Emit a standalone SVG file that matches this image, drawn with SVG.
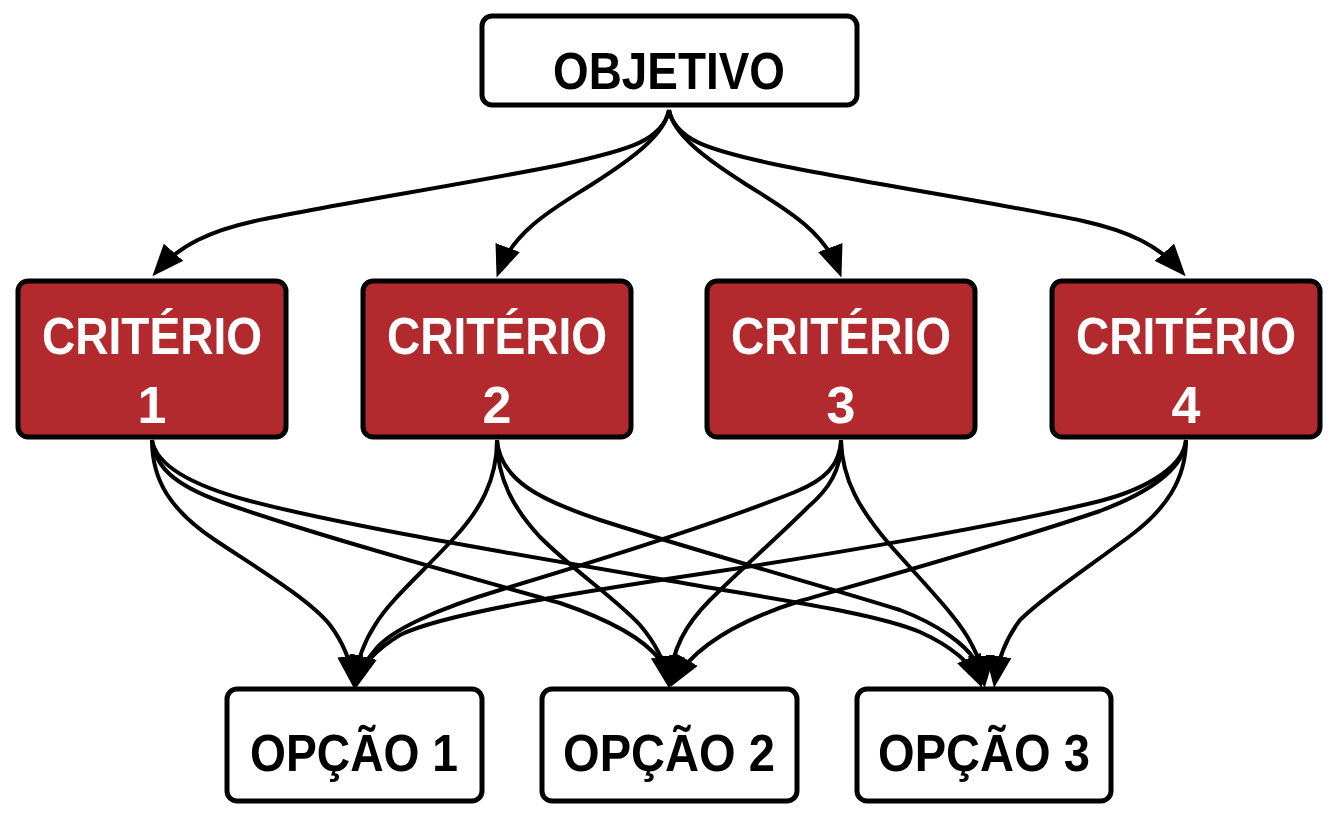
<svg xmlns="http://www.w3.org/2000/svg" width="1343" height="818" viewBox="0 0 1343 818">
<style>
.box{fill:#ffffff;stroke:#000;stroke-width:5}
.crit{fill:#b32a2e;stroke:#000;stroke-width:5}
.t{font-family:"Liberation Sans",Arial,sans-serif;font-weight:bold;font-size:52px;text-anchor:middle;fill:#000}
.w{fill:#ffffff}
.e{fill:none;stroke:#000;stroke-width:4;marker-end:url(#ah)}
</style>
<defs>
<marker id="ah" markerUnits="userSpaceOnUse" markerWidth="32" markerHeight="26" viewBox="0 0 32 26" refX="25" refY="13" orient="auto">
<path d="M0,0 L32,13 L0,26 z" fill="#000"/>
</marker>
</defs>
<rect width="1343" height="818" fill="#ffffff"/>
<g id="connectors">
<path class="e" d="M669,110 C663,140 630,150 560,165 C460,185 330,205 255,221 C210,231 180,245 157,271"/>
<path class="e" d="M669,110 C665,135 630,160 594,183 C560,205 515,228 499,271"/>
<path class="e" d="M669,110 C673,135 708,160 744,183 C778,205 823,228 839,271"/>
<path class="e" d="M669,110 C675,140 708,150 778,165 C878,185 1008,205 1083,221 C1128,231 1158,245 1181,271"/>
<path class="e" d="M152,440 C152,480 170,510 215,540 C260,570 310,600 330,625 C345,645 351,663 353,681"/>
<path class="e" d="M152,440 C155,470 180,488 230,505 C330,540 480,580 560,603 C610,620 645,640 660,660 C665,668 667,675 668,681"/>
<path class="e" d="M152,440 C156,465 190,485 250,501 C350,527 520,555 700,586 C800,603 880,615 920,632 C955,648 972,665 979,681"/>
<path class="e" d="M497,440 C497,480 480,510 455,537 C420,575 390,600 375,625 C362,645 357,662 355,681"/>
<path class="e" d="M497,440 C497,480 515,510 540,537 C575,572 615,598 640,625 C657,645 665,662 668,681"/>
<path class="e" d="M497,440 C500,480 540,500 600,520 C700,552 830,588 900,610 C940,625 965,645 975,660 C980,668 981,675 981,681"/>
<path class="e" d="M841,440 C840,465 825,480 795,492 C720,522 600,560 500,590 C440,608 390,630 375,650 C364,663 359,672 357,681"/>
<path class="e" d="M841,440 C842,470 828,490 808,507 C780,535 740,570 710,600 C685,625 672,650 670,681"/>
<path class="e" d="M841,440 C842,480 860,510 890,545 C930,590 960,620 972,645 C980,660 983,670 984,681"/>
<path class="e" d="M1186,440 C1184,465 1150,488 1100,501 C1000,526 820,556 700,574 C560,595 440,615 400,635 C375,650 362,665 358,681"/>
<path class="e" d="M1186,440 C1184,468 1150,492 1100,511 C1000,545 880,578 800,601 C740,620 695,645 674,681"/>
<path class="e" d="M1186,440 C1186,480 1165,510 1130,536 C1080,573 1040,600 1020,620 C1005,640 998,660 995,681"/>
</g>
<g id="objetivo">
<rect class="box" x="482" y="16" width="375" height="89" rx="10"/>
<text class="t" x="669" y="89" textLength="232" lengthAdjust="spacingAndGlyphs">OBJETIVO</text>
</g>
<g id="criterio1">
<rect class="crit" x="18" y="281" width="268" height="156" rx="10"/>
<text class="t w" x="152" y="354" textLength="220" lengthAdjust="spacingAndGlyphs">CRITÉRIO</text>
<text class="t w" x="152" y="423">1</text>
</g>
<g id="criterio2">
<rect class="crit" x="363" y="281" width="268" height="156" rx="10"/>
<text class="t w" x="497" y="354" textLength="220" lengthAdjust="spacingAndGlyphs">CRITÉRIO</text>
<text class="t w" x="497" y="423">2</text>
</g>
<g id="criterio3">
<rect class="crit" x="707" y="281" width="268" height="156" rx="10"/>
<text class="t w" x="841" y="354" textLength="220" lengthAdjust="spacingAndGlyphs">CRITÉRIO</text>
<text class="t w" x="841" y="423">3</text>
</g>
<g id="criterio4">
<rect class="crit" x="1052" y="281" width="268" height="156" rx="10"/>
<text class="t w" x="1186" y="354" textLength="220" lengthAdjust="spacingAndGlyphs">CRITÉRIO</text>
<text class="t w" x="1186" y="423">4</text>
</g>
<g id="opcao1">
<rect class="box" x="227" y="689" width="255" height="112" rx="10"/>
<text class="t" x="354" y="771" textLength="208" lengthAdjust="spacingAndGlyphs">OPÇÃO 1</text>
</g>
<g id="opcao2">
<rect class="box" x="542" y="689" width="255" height="112" rx="10"/>
<text class="t" x="669" y="771" textLength="212" lengthAdjust="spacingAndGlyphs">OPÇÃO 2</text>
</g>
<g id="opcao3">
<rect class="box" x="857" y="689" width="254" height="112" rx="10"/>
<text class="t" x="984" y="771" textLength="212" lengthAdjust="spacingAndGlyphs">OPÇÃO 3</text>
</g>
</svg>
